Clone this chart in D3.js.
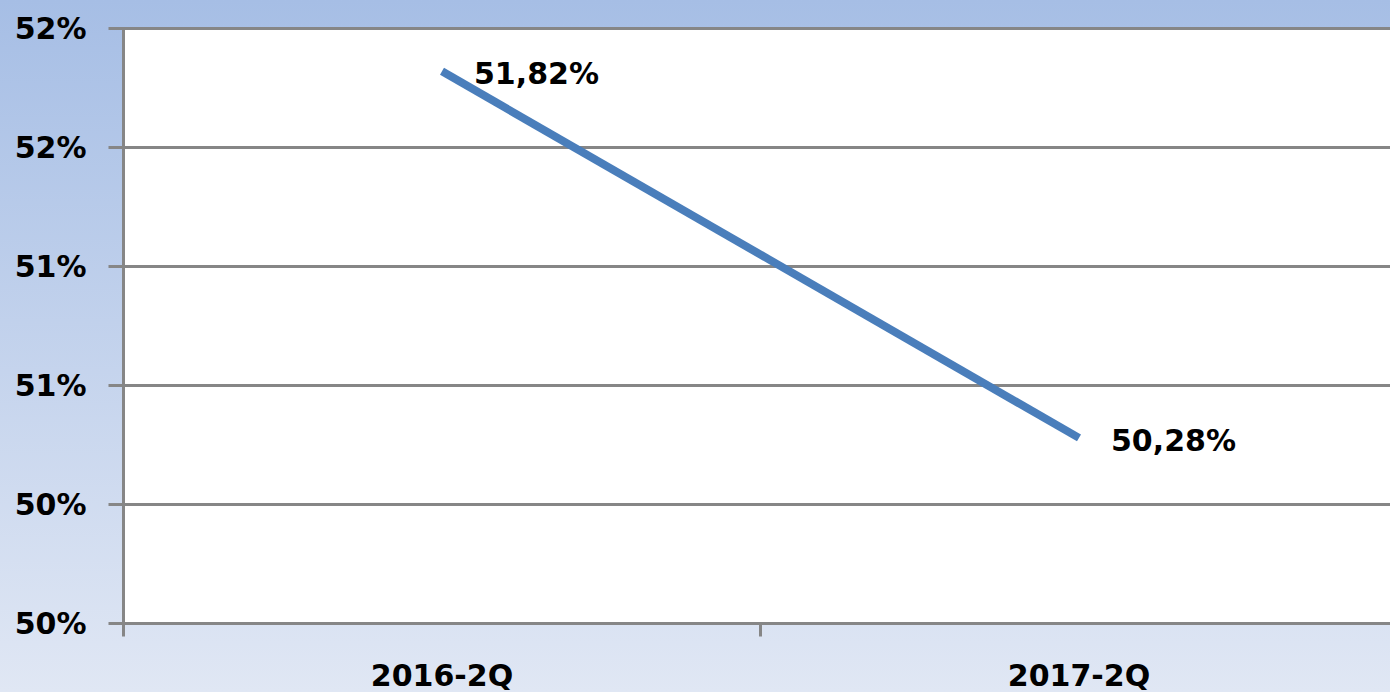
<!DOCTYPE html>
<html>
<head>
	<title>Chart</title>
	<meta charset="utf-8">
	<style type="text/css">
		body { margin: 0; overflow: hidden; }
		text { font-family: "DejaVu Sans", Verdana, sans-serif; }
	</style>
	<script src="https://d3js.org/d3.v7.min.js"></script>
</head>
<body>
	<div class="div1"></div>
	<script type="text/javascript">

		var categories = ["2016-2Q", "2017-2Q"];
		var values = [51.82, 50.28];
		var valueLabels = ["51,82%", "50,28%"];
		var tickValues = [49.5, 50, 50.5, 51, 51.5, 52];
		var tickLabels = ["50%", "50%", "51%", "51%", "52%", "52%"];

		var svgDims = {width: 1390, height: 692};
		var plot = {left: 123.5, right: 1397.5, top: 28.5, bottom: 623.5};

		var svg = d3.select(".div1")
					.append("svg")
					.attr("width", svgDims.width)
					.attr("height", svgDims.height);

		// fundo em degradê
		var grad = svg.append("defs").append("linearGradient")
					.attr("id", "bg")
					.attr("x1", 0).attr("y1", 0)
					.attr("x2", 0).attr("y2", 1);
		grad.append("stop").attr("offset", "0%").attr("stop-color", "#a6bee5");
		grad.append("stop").attr("offset", "100%").attr("stop-color", "#e0e7f4");

		svg.append("rect")
			.attr("width", svgDims.width)
			.attr("height", svgDims.height)
			.attr("fill", "url(#bg)");

		var x_scale = d3.scaleBand().domain(categories).range([plot.left, plot.right]);
		var y_scale = d3.scaleLinear().domain([49.5, 52]).range([plot.bottom, plot.top]);

		svg.append("rect")
			.attr("x", plot.left)
			.attr("y", plot.top)
			.attr("width", plot.right - plot.left)
			.attr("height", plot.bottom - plot.top)
			.attr("fill", "white");

		// linhas de grade
		svg.append("g")
			.selectAll("line")
			.data(tickValues)
			.enter().append("line")
			.attr("x1", plot.left - 15)
			.attr("x2", plot.right)
			.attr("y1", function(d){ return y_scale(d); })
			.attr("y2", function(d){ return y_scale(d); })
			.attr("stroke", "#868686")
			.attr("stroke-width", 3);

		// eixo y
		var y_axis = d3.axisLeft(y_scale)
						.tickValues(tickValues)
						.tickSize(0)
						.tickPadding(37)
						.tickFormat(function(d, i){ return tickLabels[i]; });

		var gy = svg.append("g")
			.attr("transform", "translate(" + plot.left + ",0)")
			.call(y_axis);
		gy.select(".domain").remove();
		gy.selectAll("text")
			.attr("font-size", 30)
			.attr("font-weight", "bold")
			.attr("fill", "#000")
			.attr("dy", "0.32em")
			.style("font-family", "DejaVu Sans");

		svg.append("line")
			.attr("x1", plot.left).attr("x2", plot.left)
			.attr("y1", plot.top).attr("y2", plot.bottom + 13)
			.attr("stroke", "#868686")
			.attr("stroke-width", 3);

		// eixo x
		var x_axis = d3.axisBottom(x_scale)
						.tickSize(0)
						.tickPadding(41);

		var gx = svg.append("g")
			.attr("transform", "translate(0," + plot.bottom + ")")
			.call(x_axis);
		gx.select(".domain").remove();
		gx.selectAll("text")
			.attr("font-size", 30)
			.attr("font-weight", "bold")
			.attr("fill", "#000")
			.style("font-family", "DejaVu Sans");

		svg.append("line")
			.attr("x1", plot.left).attr("x2", plot.right)
			.attr("y1", plot.bottom).attr("y2", plot.bottom)
			.attr("stroke", "#868686")
			.attr("stroke-width", 3);

		svg.append("g")
			.selectAll("line")
			.data(categories.slice(1))
			.enter().append("line")
			.attr("x1", function(d){ return x_scale(d); })
			.attr("x2", function(d){ return x_scale(d); })
			.attr("y1", plot.bottom)
			.attr("y2", plot.bottom + 13)
			.attr("stroke", "#868686")
			.attr("stroke-width", 3);

		// linha da série
		var data_datum = categories.map(function(c, i){ return {x: c, y: values[i], label: valueLabels[i]}; });

		var line = d3.line()
						.x(function(d){ return x_scale(d.x) + x_scale.bandwidth() / 2; })
						.y(function(d){ return y_scale(d.y); });

		svg.append("path")
			.datum(data_datum)
			.attr("fill", "none")
			.attr("stroke", "#4a7ebb")
			.attr("stroke-width", 8)
			.attr("d", line);

		svg.append("g")
			.selectAll("text")
			.data(data_datum)
			.enter().append("text")
			.attr("x", function(d){ return x_scale(d.x) + x_scale.bandwidth() / 2 + 32; })
			.attr("y", function(d){ return y_scale(d.y) + 13; })
			.attr("font-size", 30)
			.attr("font-weight", "bold")
			.attr("fill", "#000")
			.text(function(d){ return d.label; });

	</script>
</body>
</html>
